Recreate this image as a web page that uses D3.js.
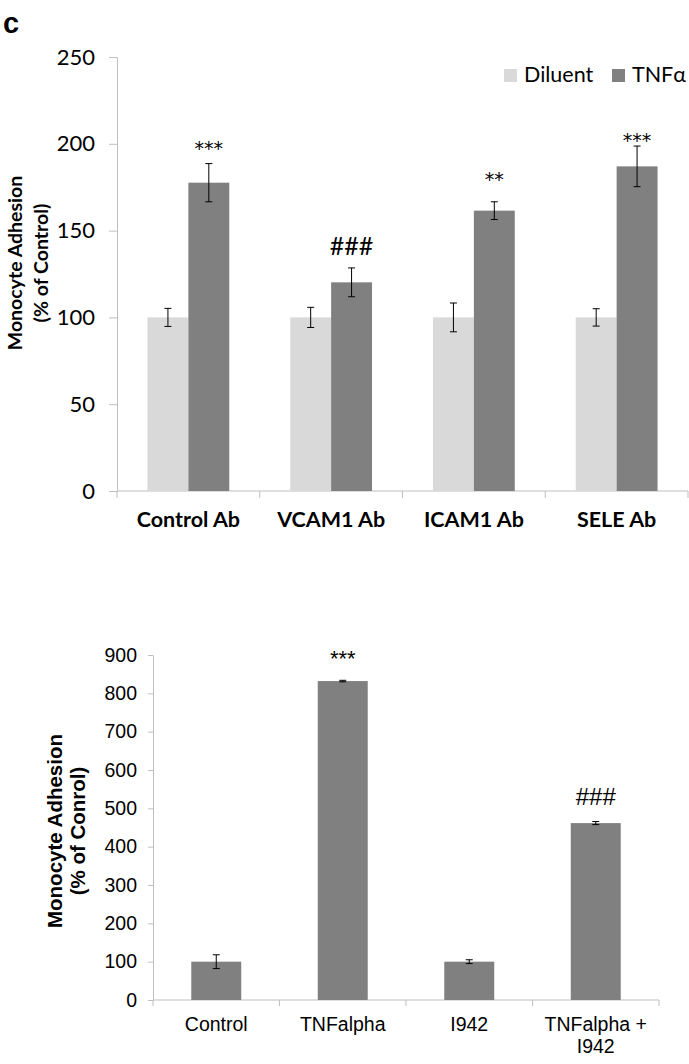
<!DOCTYPE html>
<html><head><meta charset="utf-8">
<script src="https://cdn.jsdelivr.net/npm/d3@7"></script>
<style>body{margin:0;background:#fff}svg{display:block}</style>
</head><body>
<svg id="c" width="689" height="1064"></svg>
<script>
// ---- Top chart data ----
const topCategories = ["Control Ab", "VCAM1 Ab", "ICAM1 Ab", "SELE Ab"];
const topSeries = ["Diluent", "TNFα"];
const diluentValues = [100, 100, 100, 100];
const diluentErrors = [5.2, 5.8, 8.3, 5.0];
const tnfValues = [177.6, 120.2, 161.5, 187.0];
const tnfErrors = [11.0, 8.3, 5.1, 11.7];
const topMarks = ["***", "###", "**", "***"];
const topMarkValues = [193.5, 136, 175.5, 198];
const topTicks = [0, 50, 100, 150, 200, 250];

// ---- Bottom chart data ----
const botCategories = [["Control"], ["TNFalpha"], ["I942"], ["TNFalpha +", "I942"]];
const botValues = [100, 832, 100, 461.5];
const botErrors = [18, 2, 5, 4];
const botMarks = ["", "***", "", "###"];
const botMarkValues = [0, 871, 0, 508];
const botTicks = [0, 100, 200, 300, 400, 500, 600, 700, 800, 900];

const svg = d3.select("#c");
const axisColor = "#bfbfbf";
const lightBar = "#d9d9d9", darkBar = "#808080";

// panel letter
svg.append("text").attr("x", 3).attr("y", 33)
  .style("font-family", "Liberation Sans, Arial, sans-serif").style("font-weight", "bold")
  .style("font-size", "29px").text("c");

// ===== TOP CHART =====
{
  const x0 = d3.scaleBand().domain(topCategories).range([117, 688]).paddingInner(0.427).paddingOuter(0.2135);
  const x1 = d3.scaleBand().domain(topSeries).range([0, x0.bandwidth()]).padding(0);
  const y = d3.scaleLinear().domain([0, 250]).range([491, 57]);
  const g = svg.append("g");
  const font = "Lato, 'Open Sans', sans-serif";

  const ya = g.append("g").attr("transform", "translate(117,0)")
    .call(d3.axisLeft(y).tickValues(topTicks).tickSize(8).tickPadding(14).tickSizeOuter(0));
  ya.selectAll("path,line").attr("stroke", axisColor);
  ya.selectAll("text").style("font-family", font).style("font-size", "22px").attr("fill", "#000");

  g.append("line").attr("x1", 117).attr("x2", 688).attr("y1", y(0)).attr("y2", y(0)).attr("stroke", axisColor);
  const bounds = topCategories.map(c => x0(c) - x0.step() * x0.paddingOuter()).concat([688]);
  g.selectAll(".bt").data(bounds).join("line")
    .attr("x1", d => d).attr("x2", d => d).attr("y1", y(0)).attr("y2", y(0) + 7).attr("stroke", axisColor);

  const rows = topCategories.map((c, i) => ({
    c, vals: [
      { s: "Diluent", v: diluentValues[i], e: diluentErrors[i], col: lightBar },
      { s: "TNFα", v: tnfValues[i], e: tnfErrors[i], col: darkBar }
    ]
  }));
  const grp = g.selectAll(".grp").data(rows).join("g").attr("transform", d => `translate(${x0(d.c)},0)`);
  grp.selectAll("rect").data(d => d.vals).join("rect")
    .attr("x", d => x1(d.s)).attr("width", x1.bandwidth())
    .attr("y", d => y(d.v)).attr("height", d => y(0) - y(d.v)).attr("fill", d => d.col);
  const eb = grp.selectAll(".eb").data(d => d.vals).join("g");
  eb.append("line").attr("x1", d => x1(d.s) + x1.bandwidth() / 2).attr("x2", d => x1(d.s) + x1.bandwidth() / 2)
    .attr("y1", d => y(d.v + d.e)).attr("y2", d => y(d.v - d.e)).attr("stroke", "#000").attr("stroke-width", 1);
  [1, -1].forEach(sg => {
    eb.append("line").attr("x1", d => x1(d.s) + x1.bandwidth() / 2 - 3.5).attr("x2", d => x1(d.s) + x1.bandwidth() / 2 + 3.5)
      .attr("y1", d => y(d.v + sg * d.e)).attr("y2", d => y(d.v + sg * d.e)).attr("stroke", "#000").attr("stroke-width", 1);
  });
  g.selectAll(".mk").data(topMarks).join("text")
    .attr("x", (d, i) => x0(topCategories[i]) + x1("TNFα") + x1.bandwidth() / 2)
    .attr("y", (d, i) => y(topMarkValues[i]))
    .attr("text-anchor", "middle")
    .style("font-family", d => d.startsWith("#") ? font : "'DejaVu Sans', sans-serif")
    .style("font-size", d => d.startsWith("#") ? "25px" : "19px").text(d => d);
  g.selectAll(".cl").data(topCategories).join("text")
    .attr("x", d => x0(d) + x0.bandwidth() / 2).attr("y", 527).attr("text-anchor", "middle")
    .style("font-family", font).style("font-weight", "bold").style("font-size", "21.5px").text(d => d);
  const yt = g.append("text").attr("transform", "translate(0,263) rotate(-90)")
    .attr("text-anchor", "middle").style("font-family", font).style("font-weight", "bold").style("font-size", "19.5px");
  yt.append("tspan").attr("x", 0).attr("y", 22).text("Monocyte Adhesion");
  yt.append("tspan").attr("x", 0).attr("y", 48).text("(% of Control)");
  const lg = g.append("g");
  const legendX = [504, 612];
  topSeries.forEach((s, i) => {
    lg.append("rect").attr("x", legendX[i]).attr("y", 69).attr("width", 13).attr("height", 13).attr("fill", i ? darkBar : lightBar);
    lg.append("text").attr("x", legendX[i] + 20).attr("y", 82).style("font-family", font).style("font-size", "21.5px").text(s);
  });
}

// ===== BOTTOM CHART =====
{
  const keys = botCategories.map(d => d.join(" "));
  const x = d3.scaleBand().domain(keys).range([153, 659]).paddingInner(0.605).paddingOuter(0.3025);
  const y = d3.scaleLinear().domain([0, 900]).range([1000, 655]);
  const g = svg.append("g");
  const font = "'Liberation Sans', Arial, sans-serif";

  const ya = g.append("g").attr("transform", "translate(153,0)")
    .call(d3.axisLeft(y).tickValues(botTicks).tickSize(5).tickPadding(11).tickSizeOuter(0));
  ya.selectAll("path,line").attr("stroke", axisColor);
  ya.selectAll("text").style("font-family", font).style("font-size", "19.5px").attr("fill", "#000");

  g.append("line").attr("x1", 153).attr("x2", 659).attr("y1", y(0)).attr("y2", y(0)).attr("stroke", axisColor);
  const bounds = keys.map(k => x(k) - x.step() * x.paddingOuter()).concat([659]);
  g.selectAll(".bt").data(bounds).join("line")
    .attr("x1", d => d).attr("x2", d => d).attr("y1", y(0)).attr("y2", y(0) + 6).attr("stroke", axisColor);

  const rows = keys.map((k, i) => ({ k, v: botValues[i], e: botErrors[i] }));
  g.selectAll(".bar").data(rows).join("rect")
    .attr("x", d => x(d.k)).attr("width", x.bandwidth())
    .attr("y", d => y(d.v)).attr("height", d => y(0) - y(d.v)).attr("fill", darkBar);
  const eb = g.selectAll(".eb").data(rows).join("g");
  eb.append("line").attr("x1", d => x(d.k) + x.bandwidth() / 2).attr("x2", d => x(d.k) + x.bandwidth() / 2)
    .attr("y1", d => y(d.v + d.e)).attr("y2", d => y(d.v - d.e)).attr("stroke", "#000");
  [1, -1].forEach(sg => {
    eb.append("line").attr("x1", d => x(d.k) + x.bandwidth() / 2 - 3.5).attr("x2", d => x(d.k) + x.bandwidth() / 2 + 3.5)
      .attr("y1", d => y(d.v + sg * d.e)).attr("y2", d => y(d.v + sg * d.e)).attr("stroke", "#000");
  });
  g.selectAll(".mk").data(botMarks).join("text")
    .attr("x", (d, i) => x(keys[i]) + x.bandwidth() / 2).attr("y", (d, i) => y(botMarkValues[i]))
    .attr("text-anchor", "middle").style("font-family", font)
    .style("font-size", d => d.startsWith("#") ? "24px" : "22px").text(d => d);
  const cl = g.selectAll(".cl").data(botCategories).join("text")
    .attr("text-anchor", "middle").style("font-family", font).style("font-size", "19.5px");
  cl.each(function (d, i) {
    const t = d3.select(this);
    d.forEach((line, j) => t.append("tspan").attr("x", x(keys[i]) + x.bandwidth() / 2).attr("y", 1031 + j * 22).text(line));
  });
  const yt = g.append("text").attr("transform", "translate(0,831) rotate(-90)")
    .attr("text-anchor", "middle").style("font-family", font).style("font-weight", "bold").style("font-size", "20.5px");
  yt.append("tspan").attr("x", 0).attr("y", 62).text("Monocyte Adhesion");
  yt.append("tspan").attr("x", 0).attr("y", 85).text("(% of Conrol)");
}
</script>
</body></html>
